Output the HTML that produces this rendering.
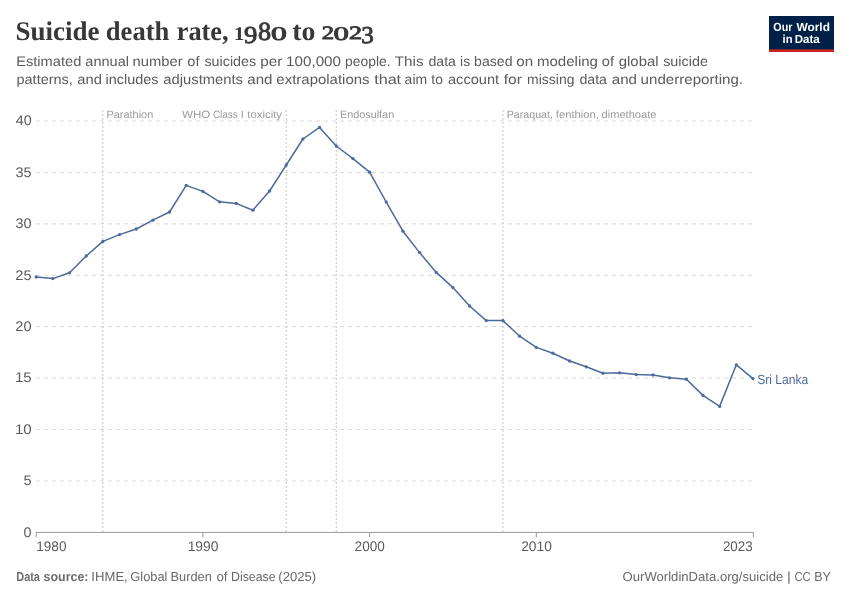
<!DOCTYPE html>
<html lang="en"><head><meta charset="utf-8"><title>Suicide death rate, 1980 to 2023</title>
<style>html,body{margin:0;padding:0;background:#fff;}body{width:850px;height:600px;overflow:hidden;}svg{display:block;}text{font-family:"Liberation Sans", sans-serif;white-space:pre;text-rendering:geometricPrecision;}.ttl{font-family:"Liberation Serif", serif;font-weight:bold;fill:#383838;}.sub{fill:#5b5b5b;}.tick{fill:#5b5b5b;}.ann{fill:#9a9a9a;}.foot{fill:#686868;}.fb{font-weight:bold;fill:#6e6e6e;}.ent{fill:#4c6a9c;}.logo{fill:#fff;font-weight:bold;}</style></head><body>
<svg width="850" height="600" viewBox="0 0 850 600">
<rect x="0" y="0" width="850" height="600" fill="#ffffff"/>
<text class="ttl"><tspan x="15.46" y="39.80" font-size="27.00" textLength="90.79" lengthAdjust="spacingAndGlyphs">Suicide </tspan><tspan x="105.82" y="39.80" font-size="27.00" textLength="70.12" lengthAdjust="spacingAndGlyphs">death </tspan><tspan x="176.69" y="39.80" font-size="27.00" textLength="58.50" lengthAdjust="spacingAndGlyphs">rate, </tspan><tspan x="233.68" y="39.80" font-size="19.39" textLength="10.73" lengthAdjust="spacingAndGlyphs">1</tspan><tspan x="244.09" y="43.01" font-size="24.41" textLength="13.36" lengthAdjust="spacingAndGlyphs" font-weight="normal" stroke="#383838" stroke-width="0.85">9</tspan><tspan x="258.05" y="39.69" font-size="26.23" textLength="13.09" lengthAdjust="spacingAndGlyphs" font-weight="normal" stroke="#383838" stroke-width="0.85">8</tspan><tspan x="271.05" y="39.76" font-size="19.41" textLength="23.71" lengthAdjust="spacingAndGlyphs" font-weight="normal" stroke="#383838" stroke-width="0.85">0 </tspan><tspan x="292.35" y="39.80" font-size="27.00" textLength="30.18" lengthAdjust="spacingAndGlyphs">to </tspan><tspan x="321.66" y="39.45" font-size="18.88" textLength="12.35" lengthAdjust="spacingAndGlyphs" font-weight="normal" stroke="#383838" stroke-width="0.85">2</tspan><tspan x="333.58" y="39.76" font-size="19.41" textLength="15.34" lengthAdjust="spacingAndGlyphs" font-weight="normal" stroke="#383838" stroke-width="0.85">0</tspan><tspan x="349.10" y="39.45" font-size="18.88" textLength="13.10" lengthAdjust="spacingAndGlyphs" font-weight="normal" stroke="#383838" stroke-width="0.85">2</tspan><tspan x="361.25" y="42.81" font-size="24.11" textLength="12.59" lengthAdjust="spacingAndGlyphs" font-weight="normal" stroke="#383838" stroke-width="0.85">3</tspan></text>
<text class="sub"><tspan x="16.20" y="66.10" font-size="13.80" textLength="69.22" lengthAdjust="spacingAndGlyphs">Estimated </tspan><tspan x="85.38" y="66.10" font-size="13.80" textLength="47.62" lengthAdjust="spacingAndGlyphs">annual </tspan><tspan x="132.62" y="66.10" font-size="13.80" textLength="54.12" lengthAdjust="spacingAndGlyphs">number </tspan><tspan x="187.39" y="66.10" font-size="13.80" textLength="16.25" lengthAdjust="spacingAndGlyphs">of </tspan><tspan x="204.40" y="66.10" font-size="13.80" textLength="55.80" lengthAdjust="spacingAndGlyphs">suicides </tspan><tspan x="260.22" y="66.10" font-size="13.80" textLength="26.27" lengthAdjust="spacingAndGlyphs">per </tspan><tspan x="286.14" y="66.10" font-size="13.80" textLength="59.06" lengthAdjust="spacingAndGlyphs">100,000 </tspan><tspan x="345.10" y="66.10" font-size="13.80" textLength="49.42" lengthAdjust="spacingAndGlyphs">people. </tspan><tspan x="394.66" y="66.10" font-size="13.80" textLength="33.15" lengthAdjust="spacingAndGlyphs">This </tspan><tspan x="428.40" y="66.10" font-size="13.80" textLength="31.53" lengthAdjust="spacingAndGlyphs">data </tspan><tspan x="460.07" y="66.10" font-size="13.80" textLength="13.89" lengthAdjust="spacingAndGlyphs">is </tspan><tspan x="474.09" y="66.10" font-size="13.80" textLength="42.34" lengthAdjust="spacingAndGlyphs">based </tspan><tspan x="516.37" y="66.10" font-size="13.80" textLength="21.02" lengthAdjust="spacingAndGlyphs">on </tspan><tspan x="537.00" y="66.10" font-size="13.80" textLength="65.14" lengthAdjust="spacingAndGlyphs">modeling </tspan><tspan x="601.79" y="66.10" font-size="13.80" textLength="16.25" lengthAdjust="spacingAndGlyphs">of </tspan><tspan x="618.77" y="66.10" font-size="13.80" textLength="43.97" lengthAdjust="spacingAndGlyphs">global </tspan><tspan x="663.20" y="66.10" font-size="13.80" textLength="44.74" lengthAdjust="spacingAndGlyphs">suicide</tspan></text>
<text class="sub"><tspan x="16.47" y="84.10" font-size="13.80" textLength="60.47" lengthAdjust="spacingAndGlyphs">patterns, </tspan><tspan x="77.37" y="84.10" font-size="13.80" textLength="28.67" lengthAdjust="spacingAndGlyphs">and </tspan><tspan x="105.64" y="84.10" font-size="13.80" textLength="56.89" lengthAdjust="spacingAndGlyphs">includes </tspan><tspan x="163.37" y="84.10" font-size="13.80" textLength="83.66" lengthAdjust="spacingAndGlyphs">adjustments </tspan><tspan x="247.36" y="84.10" font-size="13.80" textLength="29.29" lengthAdjust="spacingAndGlyphs">and </tspan><tspan x="276.36" y="84.10" font-size="13.80" textLength="97.33" lengthAdjust="spacingAndGlyphs">extrapolations </tspan><tspan x="374.16" y="84.10" font-size="13.80" textLength="31.45" lengthAdjust="spacingAndGlyphs">that </tspan><tspan x="404.61" y="84.10" font-size="13.80" textLength="26.40" lengthAdjust="spacingAndGlyphs">aim </tspan><tspan x="431.39" y="84.10" font-size="13.80" textLength="15.46" lengthAdjust="spacingAndGlyphs">to </tspan><tspan x="447.98" y="84.10" font-size="13.80" textLength="55.18" lengthAdjust="spacingAndGlyphs">account </tspan><tspan x="503.78" y="84.10" font-size="13.80" textLength="22.63" lengthAdjust="spacingAndGlyphs">for </tspan><tspan x="527.07" y="84.10" font-size="13.80" textLength="51.32" lengthAdjust="spacingAndGlyphs">missing </tspan><tspan x="579.40" y="84.10" font-size="13.80" textLength="31.53" lengthAdjust="spacingAndGlyphs">data </tspan><tspan x="611.76" y="84.10" font-size="13.80" textLength="29.42" lengthAdjust="spacingAndGlyphs">and </tspan><tspan x="640.62" y="84.10" font-size="13.80" textLength="102.36" lengthAdjust="spacingAndGlyphs">underreporting.</tspan></text>
<g><rect x="769" y="16" width="65" height="36" fill="#002147"/><rect x="769" y="49.4" width="65" height="2.6" fill="#ce261e"/>
<text class="logo"><tspan x="773.36" y="30.70" font-size="11.80" textLength="22.09" lengthAdjust="spacingAndGlyphs">Our </tspan><tspan x="796.49" y="30.70" font-size="11.80" textLength="33.39" lengthAdjust="spacingAndGlyphs">World</tspan></text>
<text class="logo"><tspan x="782.52" y="42.80" font-size="11.80" textLength="13.10" lengthAdjust="spacingAndGlyphs">in </tspan><tspan x="794.73" y="42.80" font-size="11.80" textLength="25.00" lengthAdjust="spacingAndGlyphs">Data</tspan></text>
</g>
<g stroke="#d9d9d9" stroke-width="1" stroke-dasharray="4,4" fill="none">
<line x1="36" y1="480.91" x2="753" y2="480.91"/>
<line x1="36" y1="429.50" x2="753" y2="429.50"/>
<line x1="36" y1="378.08" x2="753" y2="378.08"/>
<line x1="36" y1="326.67" x2="753" y2="326.67"/>
<line x1="36" y1="275.25" x2="753" y2="275.25"/>
<line x1="36" y1="223.83" x2="753" y2="223.83"/>
<line x1="36" y1="172.42" x2="753" y2="172.42"/>
<line x1="36" y1="121.00" x2="753" y2="121.00"/>
</g>
<g stroke="#c6c6c6" stroke-width="1" stroke-dasharray="2,2" fill="none">
<line x1="102.88" y1="110" x2="102.88" y2="532.4"/>
<line x1="286.25" y1="110" x2="286.25" y2="532.4"/>
<line x1="336.26" y1="110" x2="336.26" y2="532.4"/>
<line x1="502.95" y1="110" x2="502.95" y2="532.4"/>
</g>
<text class="ann"><tspan x="106.40" y="117.70" font-size="10.60" textLength="46.91" lengthAdjust="spacingAndGlyphs">Parathion</tspan></text>
<text class="ann"><tspan x="182.05" y="117.70" font-size="10.60" textLength="31.52" lengthAdjust="spacingAndGlyphs">WHO </tspan><tspan x="212.90" y="117.70" font-size="10.60" textLength="27.63" lengthAdjust="spacingAndGlyphs">Class </tspan><tspan x="240.81" y="117.70" font-size="10.60" textLength="5.96" lengthAdjust="spacingAndGlyphs">I </tspan><tspan x="247.33" y="117.70" font-size="10.60" textLength="34.69" lengthAdjust="spacingAndGlyphs">toxicity</tspan></text>
<text class="ann"><tspan x="339.91" y="117.70" font-size="10.60" textLength="54.29" lengthAdjust="spacingAndGlyphs">Endosulfan</tspan></text>
<text class="ann"><tspan x="506.73" y="117.70" font-size="10.60" textLength="49.19" lengthAdjust="spacingAndGlyphs">Paraquat, </tspan><tspan x="555.84" y="117.70" font-size="10.60" textLength="46.30" lengthAdjust="spacingAndGlyphs">fenthion, </tspan><tspan x="601.53" y="117.70" font-size="10.60" textLength="54.96" lengthAdjust="spacingAndGlyphs">dimethoate</tspan></text>
<text class="tick"><tspan x="23.59" y="536.58" font-size="14.00" textLength="8.03" lengthAdjust="spacingAndGlyphs">0</tspan></text>
<text class="tick"><tspan x="23.57" y="485.16" font-size="14.00" textLength="8.09" lengthAdjust="spacingAndGlyphs">5</tspan></text>
<text class="tick"><tspan x="14.90" y="433.75" font-size="14.00" textLength="16.73" lengthAdjust="spacingAndGlyphs">10</tspan></text>
<text class="tick"><tspan x="14.90" y="382.33" font-size="14.00" textLength="16.78" lengthAdjust="spacingAndGlyphs">15</tspan></text>
<text class="tick"><tspan x="15.31" y="330.92" font-size="14.00" textLength="16.31" lengthAdjust="spacingAndGlyphs">20</tspan></text>
<text class="tick"><tspan x="15.31" y="279.50" font-size="14.00" textLength="16.36" lengthAdjust="spacingAndGlyphs">25</tspan></text>
<text class="tick"><tspan x="15.50" y="228.08" font-size="14.00" textLength="16.12" lengthAdjust="spacingAndGlyphs">30</tspan></text>
<text class="tick"><tspan x="15.50" y="176.67" font-size="14.00" textLength="16.16" lengthAdjust="spacingAndGlyphs">35</tspan></text>
<text class="tick"><tspan x="15.72" y="125.25" font-size="14.00" textLength="15.89" lengthAdjust="spacingAndGlyphs">40</tspan></text>
<g stroke="#999999" stroke-width="1" fill="none">
<line x1="35.7" y1="532.4" x2="753.5" y2="532.4"/>
<line x1="36.20" y1="532.4" x2="36.20" y2="537.4"/>
<line x1="202.90" y1="532.4" x2="202.90" y2="537.4"/>
<line x1="369.60" y1="532.4" x2="369.60" y2="537.4"/>
<line x1="536.29" y1="532.4" x2="536.29" y2="537.4"/>
<line x1="753.40" y1="532.4" x2="753.40" y2="537.4"/>
</g>
<text class="tick"><tspan x="36.22" y="550.90" font-size="14.00" textLength="30.22" lengthAdjust="spacingAndGlyphs">1980</tspan></text>
<text class="tick"><tspan x="187.64" y="550.90" font-size="14.00" textLength="30.90" lengthAdjust="spacingAndGlyphs">1990</tspan></text>
<text class="tick"><tspan x="354.62" y="550.90" font-size="14.00" textLength="30.21" lengthAdjust="spacingAndGlyphs">2000</tspan></text>
<text class="tick"><tspan x="521.21" y="550.90" font-size="14.00" textLength="30.63" lengthAdjust="spacingAndGlyphs">2010</tspan></text>
<text class="tick"><tspan x="722.93" y="550.90" font-size="14.00" textLength="29.66" lengthAdjust="spacingAndGlyphs">2023</tspan></text>
<path d="M36.20,277.00 L52.87,278.60 L69.54,272.80 L86.21,256.00 L102.88,241.40 L119.55,234.60 L136.22,229.00 L152.89,220.20 L169.56,212.00 L186.23,185.40 L202.90,191.40 L219.57,201.80 L236.24,203.40 L252.91,210.20 L269.58,191.00 L286.25,165.00 L302.92,139.00 L319.59,127.40 L336.26,146.00 L352.93,158.60 L369.60,172.20 L386.27,202.10 L402.93,231.20 L419.60,252.60 L436.27,272.40 L452.94,287.60 L469.61,306.00 L486.28,320.60 L502.95,320.60 L519.62,336.20 L536.29,347.40 L552.96,353.20 L569.63,361.00 L586.30,366.80 L602.97,373.20 L619.64,372.80 L636.31,374.60 L652.98,375.00 L669.65,377.80 L686.32,379.20 L702.99,395.40 L719.66,406.40 L736.33,364.80 L753.00,378.60" fill="none" stroke="#4c6a9c" stroke-width="1.5" stroke-linejoin="round" stroke-linecap="round"/>
<g fill="#4c6a9c">
<circle cx="36.20" cy="277.00" r="1.65"/>
<circle cx="52.87" cy="278.60" r="1.65"/>
<circle cx="69.54" cy="272.80" r="1.65"/>
<circle cx="86.21" cy="256.00" r="1.65"/>
<circle cx="102.88" cy="241.40" r="1.65"/>
<circle cx="119.55" cy="234.60" r="1.65"/>
<circle cx="136.22" cy="229.00" r="1.65"/>
<circle cx="152.89" cy="220.20" r="1.65"/>
<circle cx="169.56" cy="212.00" r="1.65"/>
<circle cx="186.23" cy="185.40" r="1.65"/>
<circle cx="202.90" cy="191.40" r="1.65"/>
<circle cx="219.57" cy="201.80" r="1.65"/>
<circle cx="236.24" cy="203.40" r="1.65"/>
<circle cx="252.91" cy="210.20" r="1.65"/>
<circle cx="269.58" cy="191.00" r="1.65"/>
<circle cx="286.25" cy="165.00" r="1.65"/>
<circle cx="302.92" cy="139.00" r="1.65"/>
<circle cx="319.59" cy="127.40" r="1.65"/>
<circle cx="336.26" cy="146.00" r="1.65"/>
<circle cx="352.93" cy="158.60" r="1.65"/>
<circle cx="369.60" cy="172.20" r="1.65"/>
<circle cx="386.27" cy="202.10" r="1.65"/>
<circle cx="402.93" cy="231.20" r="1.65"/>
<circle cx="419.60" cy="252.60" r="1.65"/>
<circle cx="436.27" cy="272.40" r="1.65"/>
<circle cx="452.94" cy="287.60" r="1.65"/>
<circle cx="469.61" cy="306.00" r="1.65"/>
<circle cx="486.28" cy="320.60" r="1.65"/>
<circle cx="502.95" cy="320.60" r="1.65"/>
<circle cx="519.62" cy="336.20" r="1.65"/>
<circle cx="536.29" cy="347.40" r="1.65"/>
<circle cx="552.96" cy="353.20" r="1.65"/>
<circle cx="569.63" cy="361.00" r="1.65"/>
<circle cx="586.30" cy="366.80" r="1.65"/>
<circle cx="602.97" cy="373.20" r="1.65"/>
<circle cx="619.64" cy="372.80" r="1.65"/>
<circle cx="636.31" cy="374.60" r="1.65"/>
<circle cx="652.98" cy="375.00" r="1.65"/>
<circle cx="669.65" cy="377.80" r="1.65"/>
<circle cx="686.32" cy="379.20" r="1.65"/>
<circle cx="702.99" cy="395.40" r="1.65"/>
<circle cx="719.66" cy="406.40" r="1.65"/>
<circle cx="736.33" cy="364.80" r="1.65"/>
<circle cx="753.00" cy="378.60" r="1.65"/>
</g>
<text class="ent"><tspan x="757.15" y="383.60" font-size="13.30" textLength="51.15" lengthAdjust="spacingAndGlyphs">Sri Lanka</tspan></text>
<text class="foot"><tspan x="16.27" y="580.70" font-size="13.00" textLength="26.69" lengthAdjust="spacingAndGlyphs" class="fb">Data </tspan><tspan x="43.56" y="580.70" font-size="13.00" textLength="48.39" lengthAdjust="spacingAndGlyphs" class="fb">source: </tspan><tspan x="91.39" y="580.70" font-size="13.00" textLength="40.02" lengthAdjust="spacingAndGlyphs">IHME, </tspan><tspan x="130.35" y="580.70" font-size="13.00" textLength="40.67" lengthAdjust="spacingAndGlyphs">Global </tspan><tspan x="170.55" y="580.70" font-size="13.00" textLength="44.84" lengthAdjust="spacingAndGlyphs">Burden </tspan><tspan x="216.44" y="580.70" font-size="13.00" textLength="14.85" lengthAdjust="spacingAndGlyphs">of </tspan><tspan x="230.99" y="580.70" font-size="13.00" textLength="47.99" lengthAdjust="spacingAndGlyphs">Disease </tspan><tspan x="278.39" y="580.70" font-size="13.00" textLength="37.82" lengthAdjust="spacingAndGlyphs">(2025)</tspan></text>
<text class="foot"><tspan x="622.58" y="580.70" font-size="13.00" textLength="164.34" lengthAdjust="spacingAndGlyphs">OurWorldinData.org/suicide </tspan><tspan x="787.08" y="580.70" font-size="13.00" textLength="7.96" lengthAdjust="spacingAndGlyphs">| </tspan><tspan x="794.43" y="580.70" font-size="13.00" textLength="19.44" lengthAdjust="spacingAndGlyphs">CC </tspan><tspan x="814.17" y="580.70" font-size="13.00" textLength="16.70" lengthAdjust="spacingAndGlyphs">BY</tspan></text>
</svg></body></html>
